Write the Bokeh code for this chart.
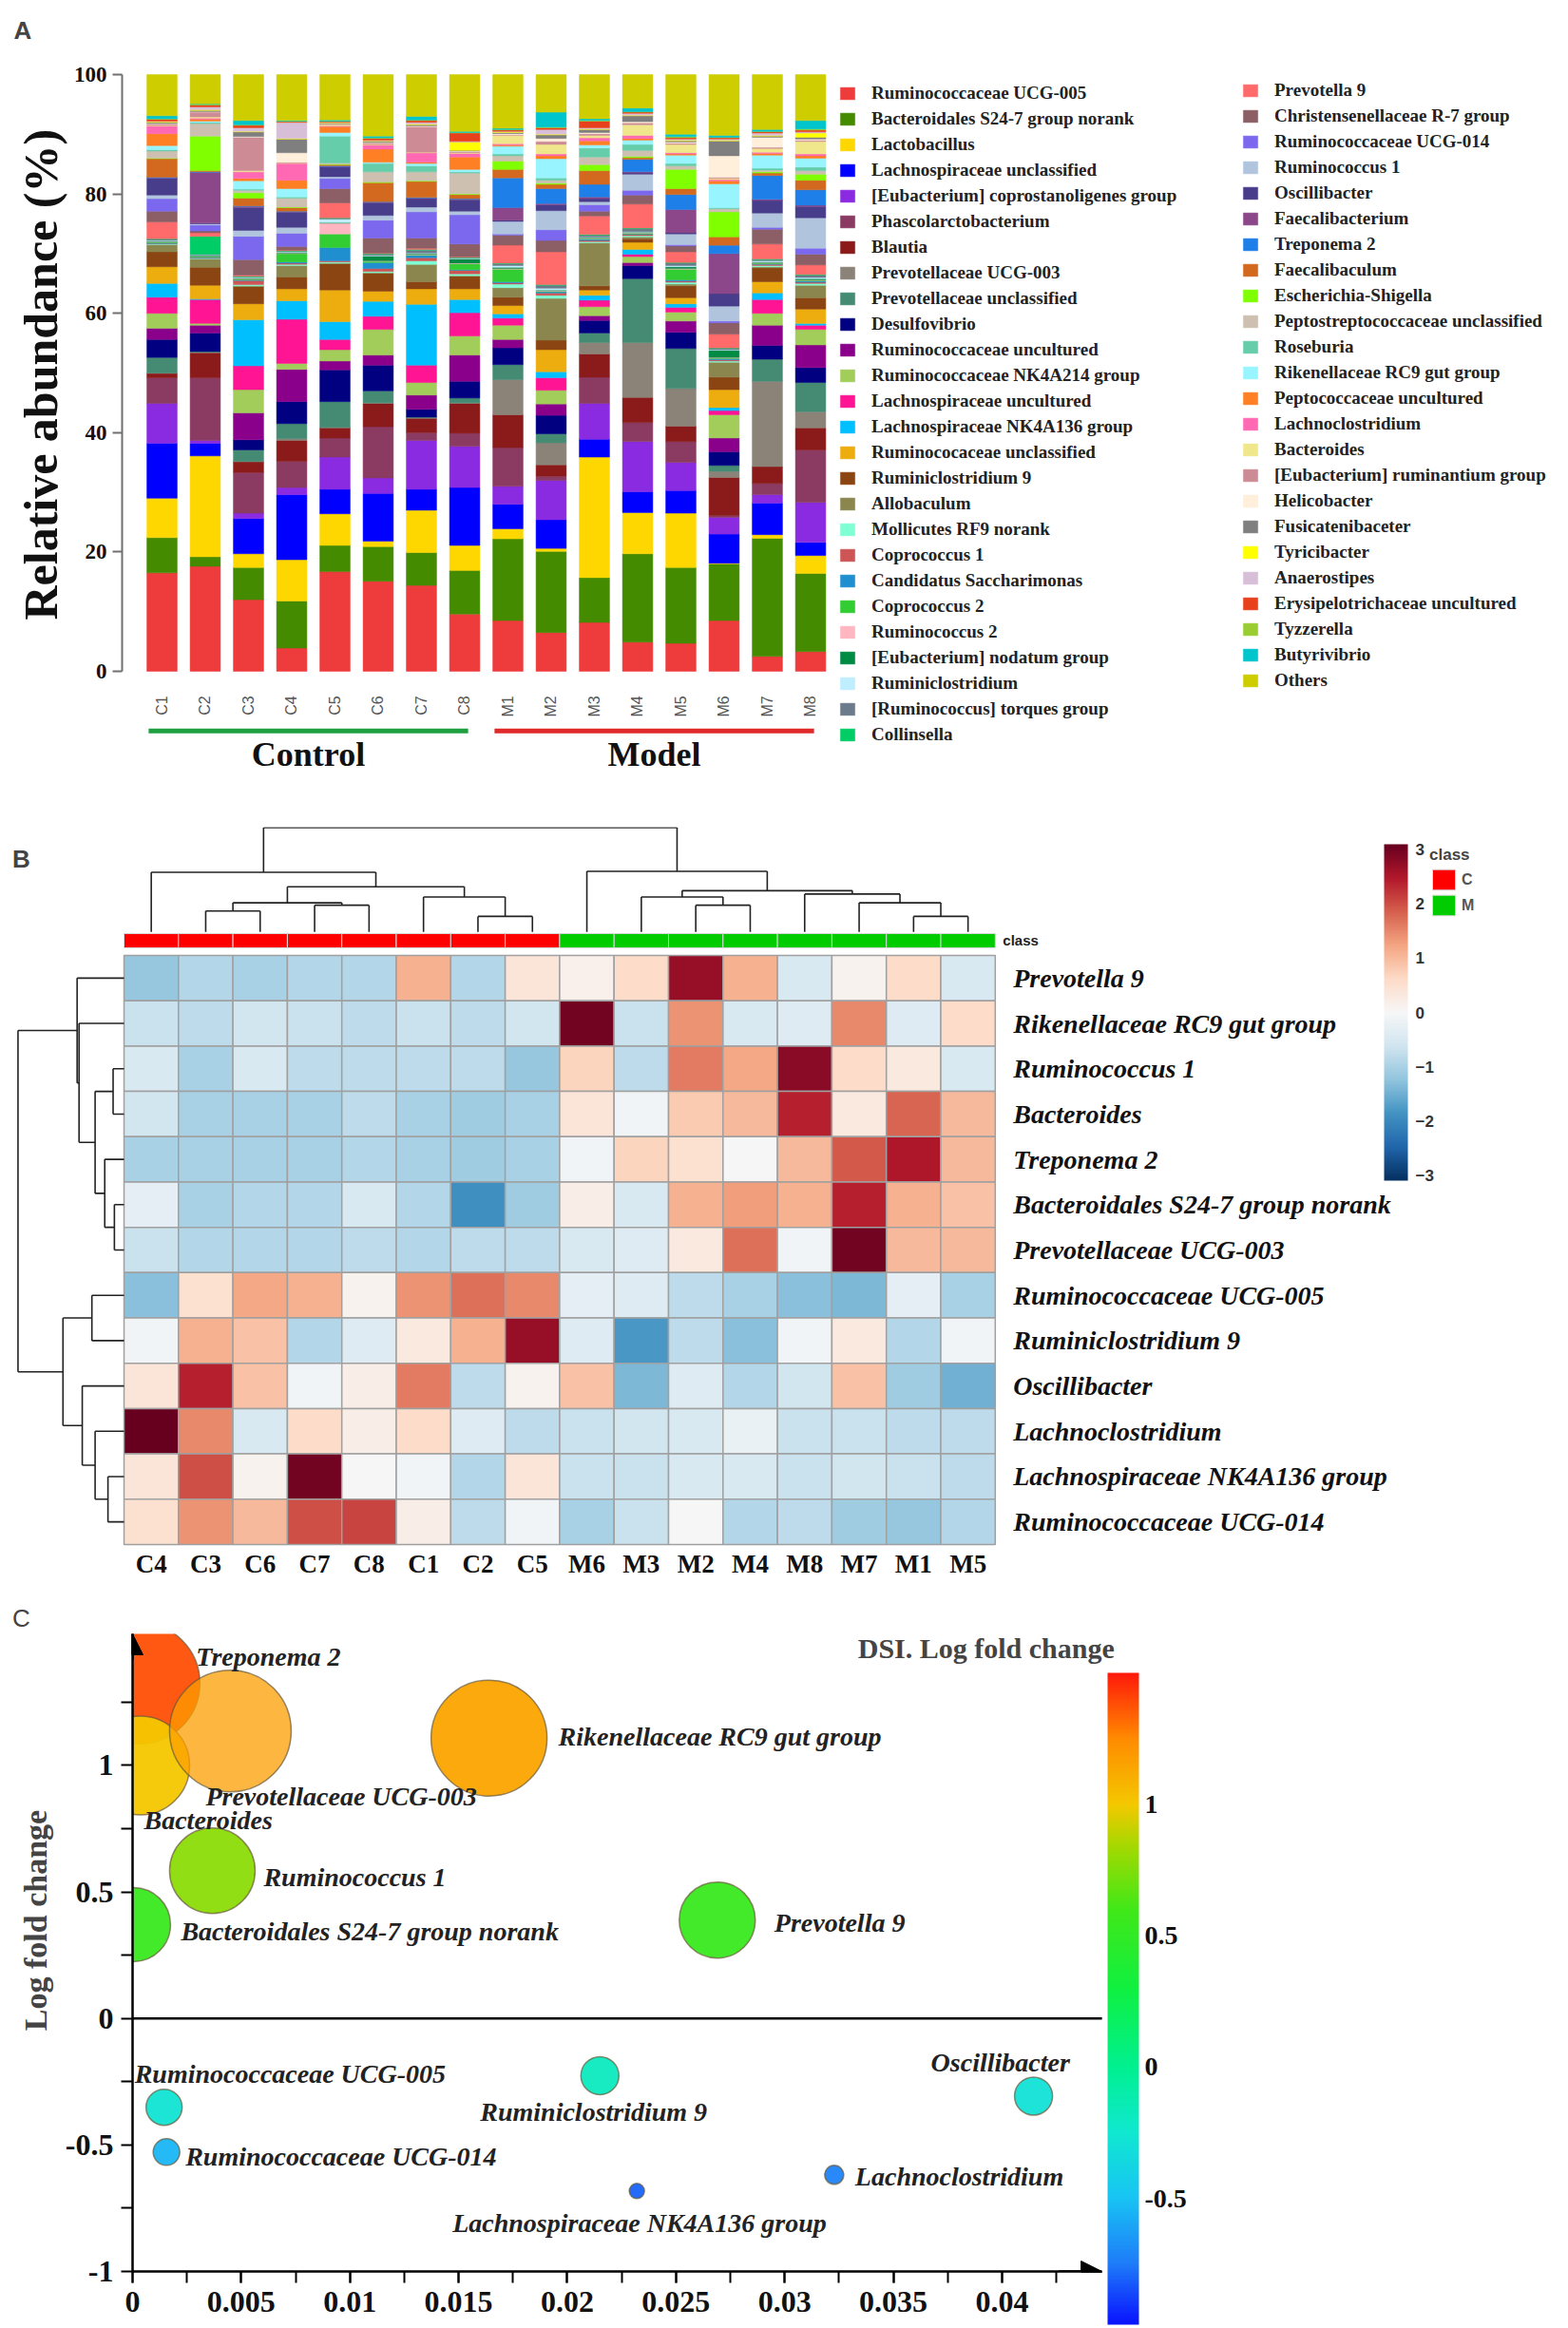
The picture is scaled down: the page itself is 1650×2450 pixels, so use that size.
import math
from bokeh.plotting import figure
from bokeh.models import (ColumnDataSource, Range1d, FixedTicker, Legend, LegendItem,
                          LinearColorMapper, ColorBar, Label, Arrow, NormalHead,
                          NumeralTickFormatter, Title)
from bokeh.transform import transform
from bokeh.embed import file_html
from bokeh.resources import INLINE
from bokeh.core.properties import value

SERIF = "Liberation Serif"
SANS = "Liberation Sans"
NBSP = "\u00a0"

# ======================= PANEL A DATA =======================
samples = ["C1", "C2", "C3", "C4", "C5", "C6", "C7", "C8",
           "M1", "M2", "M3", "M4", "M5", "M6", "M7", "M8"]
groups = ["Control", "Model"]
group_of_sample = ["Control"] * 8 + ["Model"] * 8
group_colors = ["#1fa040", "#e02a2a"]

taxa = ["Ruminococcaceae UCG-005", "Bacteroidales S24-7 group norank", "Lactobacillus",
        "Lachnospiraceae unclassified", "[Eubacterium] coprostanoligenes group",
        "Phascolarctobacterium", "Blautia", "Prevotellaceae UCG-003",
        "Prevotellaceae unclassified", "Desulfovibrio", "Ruminococcaceae uncultured",
        "Ruminococcaceae NK4A214 group", "Lachnospiraceae uncultured",
        "Lachnospiraceae NK4A136 group", "Ruminococaceae unclassified", "Ruminiclostridium 9",
        "Allobaculum", "Mollicutes RF9 norank", "Coprococcus 1", "Candidatus Saccharimonas",
        "Coprococcus 2", "Ruminococcus 2", "[Eubacterium] nodatum group", "Ruminiclostridium",
        "[Ruminococcus] torques group", "Collinsella",
        "Prevotella 9", "Christensenellaceae R-7 group", "Ruminococcaceae UCG-014",
        "Ruminococcus 1", "Oscillibacter", "Faecalibacterium", "Treponema 2", "Faecalibaculum",
        "Escherichia-Shigella", "Peptostreptococcaceae unclassified", "Roseburia",
        "Rikenellaceae RC9 gut group", "Peptococcaceae uncultured", "Lachnoclostridium",
        "Bacteroides", "[Eubacterium] ruminantium group", "Helicobacter", "Fusicatenibaceter",
        "Tyricibacter", "Anaerostipes", "Erysipelotrichaceae uncultured", "Tyzzerella",
        "Butyrivibrio", "Others"]

taxa_colors = ["#EE3B3B", "#458B00", "#FFD700", "#0000FF", "#8A2BE2", "#8B3A62", "#8B1A1A",
               "#8B8378", "#458B74", "#000080", "#8B008B", "#A2CD5A", "#FF1493", "#00BFFF",
               "#EEAD0E", "#8B4513", "#8B864E", "#7FFFD4", "#CD5555", "#1F8FD0", "#32CD32",
               "#FFB6C1", "#008B45", "#BFEFFF", "#6C7B8B", "#00CD66",
               "#FF6A6A", "#8B5F65", "#7B68EE", "#B0C4DE", "#483D8B", "#8B4789", "#1E7FE8",
               "#D2691E", "#7FFF00", "#CDC0B0", "#66CDAA", "#98F5FF", "#FF7F24", "#FF69B4",
               "#F0E68C", "#CD8C95", "#FFEFDB", "#7F7F7F", "#FFFF00", "#D8BFD8", "#E8401C",
               "#9ACD32", "#00C5CD", "#CDCD00"]

# relative abundance (%) per sample, in the order of `taxa`
ab_C1 = [16.5, 5.9, 6.6, 9.2, 6.7, 4.3, 0.7, 0.1, 2.6, 3.0, 1.9, 2.5, 2.7, 2.3, 2.8, 2.5, 1.2,
         0.1, 0.1, 0.1, 0.1, 0.1, 0.1, 0.1, 0.2, 0.1, 2.8, 1.8, 2.1, 0.6, 2.8, 0.1, 0.1, 3.1,
         0.1, 1.2, 0.2, 0.7, 2.0, 1.3, 0.1, 0.2, 0.1, 0.2, 0.1, 0.1, 0.3, 0.1, 0.5, 6.9]
ab_C2 = [17.6, 1.6, 16.9, 2.1, 0.5, 10.5, 4.2, 0.1, 0.1, 3.1, 1.3, 0.3, 4.0, 0.1, 2.3, 3.0, 1.4,
         0.1, 0.1, 0.1, 0.1, 0.1, 0.1, 0.1, 0.1, 3.0, 0.6, 0.3, 1.0, 0.2, 0.1, 8.5, 0.1, 0.2,
         5.8, 2.1, 0.2, 0.2, 0.3, 0.2, 0.2, 0.8, 0.1, 0.2, 0.1, 0.5, 0.3, 0.1, 0.1, 4.9]
ab_C3 = [12.0, 5.4, 2.3, 5.9, 0.9, 6.8, 1.8, 0.1, 1.9, 1.7, 4.5, 3.9, 4.0, 7.7, 2.7, 2.9, 0.1,
         0.2, 0.7, 0.1, 0.1, 0.1, 0.1, 0.1, 0.1, 0.1, 0.2, 2.6, 3.9, 1.0, 3.8, 0.2, 0.1, 1.3,
         0.9, 0.4, 0.2, 1.4, 0.4, 1.1, 0.2, 5.6, 0.1, 0.8, 0.1, 0.6, 0.4, 0.1, 0.7, 7.7]
ab_C4 = [3.9, 7.9, 6.9, 10.9, 1.2, 4.4, 3.5, 0.3, 2.5, 3.7, 5.4, 1.0, 7.4, 3.1, 2.0, 2.0, 1.9,
         0.2, 0.2, 0.2, 1.4, 0.1, 0.1, 0.1, 0.1, 0.1, 0.1, 0.6, 2.2, 1.0, 2.5, 0.1, 0.1, 0.6,
         0.1, 1.5, 0.2, 1.4, 1.4, 2.8, 0.1, 0.1, 1.6, 2.3, 0.1, 2.7, 0.1, 0.1, 0.1, 7.7]
ab_C5 = [16.7, 4.4, 5.3, 4.1, 5.4, 3.2, 1.7, 0.1, 4.3, 5.3, 1.5, 1.9, 1.7, 3.0, 5.3, 4.4, 0.1,
         0.2, 0.2, 2.2, 2.3, 1.8, 0.1, 0.6, 0.1, 0.1, 2.5, 2.4, 1.7, 0.3, 1.6, 0.1, 0.1, 0.2,
         0.1, 0.2, 4.5, 0.6, 1.0, 0.1, 0.1, 0.1, 0.1, 0.1, 0.1, 0.1, 0.1, 0.1, 0.2, 7.6]
ab_C6 = [15.1, 5.8, 0.9, 8.0, 2.6, 8.6, 3.9, 0.1, 2.0, 4.3, 1.7, 4.3, 2.2, 2.5, 1.7, 3.0, 0.1,
         0.2, 0.5, 1.0, 0.2, 0.1, 0.8, 0.1, 0.2, 0.1, 0.1, 2.5, 3.0, 0.8, 2.1, 0.1, 0.1, 3.2,
         0.1, 1.7, 1.4, 0.2, 2.2, 0.7, 0.1, 0.2, 0.1, 0.2, 0.1, 0.1, 0.3, 0.1, 0.3, 10.3]
ab_C7 = [14.4, 5.5, 7.1, 3.5, 8.2, 1.3, 2.4, 0.1, 0.1, 1.3, 2.4, 2.1, 2.9, 10.2, 2.6, 1.2, 2.9,
         0.6, 0.5, 0.4, 0.1, 0.1, 0.1, 0.1, 0.5, 0.1, 0.2, 1.7, 4.4, 0.8, 1.4, 0.1, 0.1, 2.7,
         0.1, 1.5, 1.0, 0.4, 0.2, 1.6, 0.1, 4.3, 0.1, 0.2, 0.1, 0.3, 0.3, 0.1, 0.6, 7.0]
ab_C8 = [9.6, 7.3, 4.2, 9.7, 6.9, 2.2, 5.0, 0.1, 0.8, 2.8, 4.4, 3.2, 3.9, 2.2, 1.8, 2.1, 0.1,
         0.3, 0.6, 0.1, 1.0, 0.1, 0.7, 0.1, 0.1, 0.1, 0.1, 2.1, 4.9, 0.6, 1.9, 0.1, 0.1, 0.7,
         0.1, 3.5, 0.2, 0.4, 2.1, 0.6, 0.1, 0.2, 0.1, 0.1, 1.4, 0.1, 1.4, 0.1, 0.2, 9.5]
ab_M1 = [8.5, 13.7, 1.7, 4.1, 3.0, 6.5, 5.5, 5.9, 2.5, 2.8, 1.4, 2.4, 1.2, 0.7, 1.4, 1.4, 1.6,
         0.6, 0.2, 0.2, 2.1, 0.1, 0.2, 0.3, 0.3, 0.1, 3.0, 1.7, 0.2, 2.1, 0.2, 2.1, 5.0, 1.4,
         1.4, 0.9, 0.3, 1.3, 0.2, 0.2, 1.4, 0.1, 0.2, 0.2, 0.1, 0.1, 0.2, 0.1, 0.2, 9.0]
ab_M2 = [6.5, 13.6, 0.5, 4.8, 6.6, 0.7, 1.9, 3.7, 1.5, 3.1, 1.9, 2.3, 2.1, 1.0, 3.7, 1.6, 7.0,
         0.5, 0.4, 0.2, 0.1, 0.1, 0.1, 0.3, 0.5, 0.1, 5.5, 1.9, 1.8, 3.2, 1.0, 0.2, 2.5, 0.7,
         0.2, 0.5, 0.4, 3.2, 0.5, 0.3, 1.6, 0.5, 0.5, 0.6, 0.1, 0.8, 0.3, 0.1, 2.5, 6.3]
ab_M3 = [8.2, 7.5, 20.2, 3.0, 6.0, 4.4, 3.9, 1.9, 1.6, 2.1, 0.8, 1.5, 1.1, 0.8, 0.9, 0.7, 7.2,
         0.2, 0.2, 0.2, 0.1, 0.1, 0.1, 0.1, 0.3, 0.1, 3.1, 0.8, 1.1, 0.5, 0.5, 0.3, 2.1, 2.3,
         1.0, 1.3, 1.5, 0.5, 0.7, 0.5, 0.4, 0.3, 0.2, 0.5, 0.1, 0.2, 1.1, 0.1, 0.3, 7.4]
ab_M4 = [4.9, 14.8, 6.9, 3.5, 8.4, 3.2, 4.2, 9.2, 10.7, 2.2, 0.5, 1.0, 0.4, 0.8, 1.2, 0.6, 0.3,
         0.2, 0.2, 0.1, 0.1, 0.1, 0.1, 0.1, 0.5, 0.1, 4.0, 1.5, 0.8, 2.7, 0.2, 0.2, 2.1, 0.3,
         0.2, 1.0, 1.0, 0.7, 0.3, 0.5, 1.8, 0.3, 0.2, 1.0, 0.1, 0.3, 0.2, 0.1, 0.6, 5.6]
ab_M5 = [4.7, 12.7, 9.1, 3.8, 4.7, 3.5, 2.6, 6.3, 6.7, 2.7, 1.9, 1.5, 0.8, 0.6, 1.0, 2.0, 0.3,
         0.3, 0.2, 0.2, 1.8, 0.1, 0.3, 0.2, 0.4, 0.1, 1.8, 1.0, 0.2, 1.8, 0.2, 3.9, 2.5, 1.0,
         3.2, 0.6, 0.4, 1.4, 0.2, 0.2, 1.4, 0.2, 0.2, 0.2, 0.1, 0.2, 0.2, 0.2, 0.4, 10.0]
ab_M6 = [8.5, 9.5, 0.1, 4.9, 2.8, 0.3, 6.4, 1.0, 1.0, 2.3, 2.3, 3.9, 0.7, 0.5, 3.0, 2.1, 2.5,
         0.2, 0.2, 0.2, 0.1, 0.1, 1.2, 0.1, 0.2, 0.1, 2.3, 1.9, 0.3, 2.5, 2.1, 6.7, 1.4, 1.4,
         4.2, 0.5, 0.2, 4.0, 0.5, 0.2, 0.2, 0.2, 3.6, 2.5, 0.1, 0.2, 0.2, 0.1, 0.3, 10.2]
ab_M7 = [2.5, 19.8, 0.6, 5.3, 1.4, 1.9, 2.8, 14.3, 3.7, 2.3, 3.4, 2.0, 2.3, 1.1, 1.9, 2.3, 0.2,
         0.2, 0.2, 0.1, 0.1, 0.1, 0.1, 0.2, 0.2, 0.1, 2.5, 2.5, 0.3, 2.4, 2.1, 0.2, 4.0, 0.4,
         0.2, 0.3, 0.3, 2.2, 0.3, 0.2, 0.6, 0.2, 1.7, 0.2, 0.1, 0.4, 0.2, 0.1, 0.3, 9.2]
ab_M8 = [3.3, 13.1, 3.0, 2.2, 6.7, 8.8, 3.7, 2.7, 4.9, 2.5, 3.8, 2.6, 0.7, 0.3, 2.4, 1.9, 2.1,
         0.3, 0.2, 0.2, 0.1, 0.1, 0.2, 0.2, 0.4, 0.1, 1.6, 1.8, 1.0, 5.1, 1.9, 0.2, 2.6, 1.6,
         1.0, 0.6, 0.6, 1.5, 0.4, 0.3, 2.1, 0.2, 0.2, 0.3, 0.7, 0.2, 0.3, 0.2, 1.4, 7.7]
yticks_A = [0, 20, 40, 60, 80, 100]

# ======================= PANEL B DATA =======================
hm_cols = ["C4", "C3", "C6", "C7", "C8", "C1", "C2", "C5",
           "M6", "M3", "M2", "M4", "M8", "M7", "M1", "M5"]
hm_class = ["C"] * 8 + ["M"] * 8
hm_rows = ["Prevotella 9", "Rikenellaceae RC9 gut group", "Ruminococcus 1", "Bacteroides",
           "Treponema 2", "Bacteroidales S24-7 group norank", "Prevotellaceae UCG-003",
           "Ruminococcaceae UCG-005", "Ruminiclostridium 9", "Oscillibacter",
           "Lachnoclostridium", "Lachnospiraceae NK4A136 group", "Ruminococcaceae UCG-014"]
z_prevotella9 = [-1.2, -0.9, -1.0, -0.9, -0.9, 1.1, -0.9, 0.4, 0.15, 0.6, 2.7, 1.1, -0.5, 0.1, 0.6, -0.5]
z_rikenellaceae = [-0.7, -0.8, -0.6, -0.7, -0.8, -0.7, -0.8, -0.6, 3.0, -0.7, 1.4, -0.5, -0.4, 1.5, -0.4, 0.6]
z_ruminococcus1 = [-0.5, -1.0, -0.5, -0.8, -0.8, -0.8, -0.8, -1.2, 0.7, -0.8, 1.6, 1.2, 2.8, 0.6, 0.3, -0.5]
z_bacteroides = [-0.6, -1.0, -1.0, -1.0, -0.8, -1.0, -1.1, -1.0, 0.4, -0.1, 0.8, 1.0, 2.4, 0.3, 1.8, 1.0]
z_treponema2 = [-1.0, -1.0, -1.0, -1.0, -0.9, -1.0, -1.1, -1.0, -0.1, 0.7, 0.5, 0.0, 1.0, 1.9, 2.5, 1.0]
z_s247 = [-0.3, -1.0, -0.9, -0.9, -0.5, -0.9, -1.9, -1.1, 0.2, -0.5, 1.1, 1.3, 1.1, 2.4, 1.1, 0.9]
z_prevucg003 = [-0.7, -0.9, -0.9, -0.9, -0.8, -0.9, -0.8, -0.8, -0.5, -0.4, 0.3, 1.7, -0.1, 3.0, 1.0, 1.0]
z_ucg005 = [-1.3, 0.5, 1.2, 1.1, 0.1, 1.4, 1.7, 1.5, -0.3, -0.4, -0.8, -1.0, -1.3, -1.4, -0.3, -1.0]
z_rclos9 = [-0.1, 1.1, 0.9, -0.9, -0.4, 0.3, 1.1, 2.7, -0.4, -1.8, -0.8, -1.3, -0.1, 0.3, -0.9, -0.1]
z_oscillibacter = [0.4, 2.4, 0.9, -0.1, 0.2, 1.6, -0.8, 0.1, 0.9, -1.4, -0.4, -0.9, -0.6, 0.9, -1.1, -1.5]
z_lachnoclostridium = [3.2, 1.5, -0.5, 0.6, 0.2, 0.6, -0.4, -0.8, -0.7, -0.6, -0.5, -0.2, -0.7, -0.7, -0.8, -0.8]
z_nk4a136 = [0.4, 2.0, 0.1, 3.0, 0.0, -0.1, -0.9, 0.4, -0.7, -0.7, -0.5, -0.5, -0.7, -0.6, -0.7, -0.8]
z_ucg014 = [0.5, 1.4, 1.0, 2.0, 2.1, 0.2, -0.8, -0.1, -1.0, -0.7, 0.0, -0.9, -0.8, -1.1, -1.2, -0.9]
hm_ticks = [-3, -2, -1, 0, 1, 2, 3]
# hierarchical clustering (merge pairs by node id, merge distance)
col_merges = [(6, 7), (1, 2), (3, 4), (17, 18), (5, 16), (19, 20), (0, 21),
              (14, 15), (10, 11), (13, 23), (9, 24), (12, 25), (26, 27), (8, 28), (22, 29)]
col_heights = [32, 43, 55, 60, 72, 93, 123, 32, 55, 60, 72, 78, 85, 125, 215]
row_merges = [(5, 6), (4, 13), (2, 3), (15, 14), (1, 16), (0, 17),
              (7, 8), (11, 12), (10, 20), (9, 21), (19, 22), (18, 23)]
row_heights = [15, 30, 17, 45, 70, 73, 50, 25, 45, 65, 95, 165]

# ======================= PANEL C DATA =======================
bub_names = ["Treponema 2", "Bacteroides", "Prevotellaceae UCG-003", "Rikenellaceae RC9 gut group",
             "Ruminococcus 1", "Bacteroidales S24-7 group norank", "Prevotella 9",
             "Ruminococcaceae UCG-005", "Ruminococcaceae UCG-014", "Ruminiclostridium 9",
             "Oscillibacter", "Lachnospiraceae NK4A136 group", "Lachnoclostridium"]
bub_x = [0.0003, 0.00035, 0.0045, 0.0164, 0.00367, 0.00004, 0.0269,
         0.00145, 0.00156, 0.0215, 0.04145, 0.0232, 0.03228]
bub_lfc = [1.325, 1.0, 1.136, 1.108, 0.584, 0.371, 0.389,
           -0.351, -0.528, -0.226, -0.307, -0.682, -0.618]
bub_dsi = [1.38, 1.0, 1.18, 1.15, 0.78, 0.55, 0.55, -0.28, -0.55, -0.18, -0.3, -0.8, -0.72]
bub_weight = [6.4, 5.2, 6.4, 6.1, 4.5, 3.9, 4.0, 1.9, 1.4, 2.0, 2.0, 0.8, 1.0]
xticks_C = [round(0.005 * i, 4) for i in range(9)]
xminor_C = [round(0.0025 * i, 5) for i in range(18)]
yticks_C = [-1, -0.5, 0, 0.5, 1]
yminor_C = [-0.75, -0.25, 0.25, 0.75, 1.25]
cbar_ticks_C = [-0.5, 0, 0.5, 1]


def lerp_palette(stops, n=256):
    pos = [s[0] for s in stops]
    cols = [tuple(int(s[1][i:i + 2], 16) for i in (1, 3, 5)) for s in stops]
    out = []
    for k in range(n):
        t = pos[0] + (pos[-1] - pos[0]) * k / (n - 1)
        j = 0
        while j < len(pos) - 2 and t > pos[j + 1]:
            j += 1
        f = (t - pos[j]) / (pos[j + 1] - pos[j])
        c = [int(round(cols[j][i] + f * (cols[j + 1][i] - cols[j][i]))) for i in range(3)]
        out.append("#%02x%02x%02x" % tuple(c))
    return out


W = 1650

# ======================= FIGURE A =======================
sample_abund = [ab_C1, ab_C2, ab_C3, ab_C4, ab_C5, ab_C6, ab_C7, ab_C8,
                ab_M1, ab_M2, ab_M3, ab_M4, ab_M5, ab_M6, ab_M7, ab_M8]
xs = [i + 1 for i in range(len(samples))]
dataA = {"x": xs}
keys = ["t%d" % k for k in range(len(taxa))]
for k, key in enumerate(keys):
    dataA[key] = [row[k] for row in sample_abund]
srcA = ColumnDataSource(dataA)

pA = figure(width=W, height=870, x_range=Range1d(0.0769, 33.528), y_range=Range1d(-17.36, 102.866),
            x_axis_type=None, output_backend="svg", toolbar_location=None,
            min_border_left=128, min_border_right=0, min_border_top=60, min_border_bottom=55)
pA.grid.visible = False
pA.outline_line_color = None
bars = pA.vbar_stack(keys, x="x", width=0.7, fill_color=taxa_colors, line_color=taxa_colors,
                     line_width=0.5, source=srcA)

ya = pA.yaxis[0]
ya.ticker = FixedTicker(ticks=yticks_A)
ya.bounds = (0, 100)
ya.axis_line_color = "#707070"
ya.axis_line_width = 2
ya.major_tick_line_color = "#707070"
ya.major_tick_line_width = 2
ya.major_tick_out = 10
ya.major_tick_in = 0
ya.minor_tick_line_color = None
ya.major_label_text_font = SERIF
ya.major_label_text_font_style = "bold"
ya.major_label_text_font_size = "23px"
ya.major_label_text_color = "#111111"
ya.major_label_standoff = 6
ya.axis_label = NBSP * 7 + "Relative abundance (%)"
ya.axis_label_text_font = SERIF
ya.axis_label_text_font_style = "bold"
ya.axis_label_text_font_size = "50px"
ya.axis_label_text_color = "#111111"
ya.axis_label_standoff = 4

srcLab = ColumnDataSource(dict(x=xs, y=[-4.1] * len(xs), t=samples))
pA.text(x="x", y="y", text="t", source=srcLab, angle=math.pi / 2, text_align="right",
        text_baseline="middle", text_font=value(SANS), text_font_size="16px",
        text_color="#555555")

gx0, gx1, gmid = [], [], []
for g in groups:
    members = [xs[i] for i in range(len(samples)) if group_of_sample[i] == g]
    gx0.append(min(members) - 0.31)
    gx1.append(max(members) + 0.08)
    gmid.append((min(members) - 0.31 + max(members) + 0.08) / 2)
srcG = ColumnDataSource(dict(x0=gx0, x1=gx1, xm=gmid, y=[-10.0] * 2, yl=[-14.0] * 2,
                             c=group_colors, t=groups))
pA.segment(x0="x0", y0="y", x1="x1", y1="y", line_color="c", line_width=5, source=srcG)
pA.text(x="xm", y="yl", text="t", source=srcG, text_align="center", text_baseline="middle",
        text_font=value(SERIF), text_font_style="bold", text_font_size="36px",
        text_color="#111111")

leg_kw = dict(orientation="vertical", glyph_width=19, glyph_height=16, label_standoff=16,
              label_height=22, spacing=5, padding=2, margin=0, border_line_color=None,
              background_fill_alpha=0, label_text_font=SERIF, label_text_font_style="bold",
              label_text_font_size="19px", label_text_color="#222222")
n1 = 26
leg1 = Legend(items=[LegendItem(label=taxa[i], renderers=[bars[i]]) for i in range(n1)],
              location=(754, 31), **leg_kw)
leg2 = Legend(items=[LegendItem(label=taxa[i], renderers=[bars[i]])
                     for i in range(n1, len(taxa))], location=(1178, 88), **leg_kw)
pA.add_layout(leg1)
pA.add_layout(leg2)
pA.add_layout(Title(text="A", align="left", offset=-114, standoff=28, text_font=SANS,
                    text_font_style="bold", text_font_size="26px"), "above")

# ======================= FIGURE B =======================
nr, nc = len(hm_rows), len(hm_cols)
z_rows = [z_prevotella9, z_rikenellaceae, z_ruminococcus1, z_bacteroides, z_treponema2,
          z_s247, z_prevucg003, z_ucg005, z_rclos9, z_oscillibacter, z_lachnoclostridium,
          z_nk4a136, z_ucg014]
rdbu = ["#053061", "#2166ac", "#4393c3", "#92c5de", "#d1e5f0", "#f7f7f7",
        "#fddbc7", "#f4a582", "#d6604d", "#b2182b", "#67001f"]
mapperB = LinearColorMapper(palette=lerp_palette(
    [(-3.1 + 6.2 * i / 10, c) for i, c in enumerate(rdbu)]), low=-3.1, high=3.1)

HB = 849
pB = figure(width=W, height=HB, x_range=Range1d(-2.269, 26.527),
            y_range=Range1d(-1.971, 15.831), x_axis_type=None, y_axis_type=None,
            output_backend="svg", toolbar_location=None, min_border_left=0,
            min_border_right=0, min_border_top=0, min_border_bottom=0)
pB.grid.visible = False
pB.outline_line_color = None

hx, hy, hz = [], [], []
for i in range(nr):
    for j in range(nc):
        hx.append(j + 0.5)
        hy.append(nr - 0.5 - i)
        hz.append(z_rows[i][j])
pB.rect(x="x", y="y", width=1, height=1, source=ColumnDataSource(dict(x=hx, y=hy, z=hz)),
        fill_color=transform("z", mapperB), line_color="#a0a0a0", line_width=1.5)


def dendro_segments(n_leaves, merges, heights):
    pos = {i: i + 0.5 for i in range(n_leaves)}
    hgt = {i: 0.0 for i in range(n_leaves)}
    segs = []
    for k, ((a, b), h) in enumerate(zip(merges, heights)):
        segs.append((pos[a], hgt[a], pos[a], h))
        segs.append((pos[b], hgt[b], pos[b], h))
        segs.append((pos[a], h, pos[b], h))
        pos[n_leaves + k] = (pos[a] + pos[b]) / 2
        hgt[n_leaves + k] = h
    return segs


col_base, col_scale = nr + 0.52, 0.0107
cs = dendro_segments(nc, col_merges, col_heights)
pB.segment(x0=[s[0] for s in cs], y0=[col_base + s[1] * col_scale for s in cs],
           x1=[s[2] for s in cs], y1=[col_base + s[3] * col_scale for s in cs],
           line_color="#222222", line_width=1.6)
row_scale = 0.0118
rs = dendro_segments(nr, row_merges, row_heights)
pB.segment(x0=[-s[1] * row_scale for s in rs], y0=[nr - s[0] for s in rs],
           x1=[-s[3] * row_scale for s in rs], y1=[nr - s[2] for s in rs],
           line_color="#222222", line_width=1.6)

class_colors = {"C": "#ff0000", "M": "#00cc00"}
class_renderers = {}
for cl in ["C", "M"]:
    cx = [j + 0.5 for j in range(nc) if hm_class[j] == cl]
    class_renderers[cl] = pB.rect(x=cx, y=[nr + 0.325] * len(cx), width=1, height=0.314,
                                  fill_color=class_colors[cl], line_color="#d8d8d8",
                                  line_width=1)
pB.text(x=[nc + 0.14], y=[nr + 0.33], text=["class"], text_font=value(SANS),
        text_font_style="bold", text_font_size="15px", text_color="#222222",
        text_align="left", text_baseline="middle")
pB.text(x=[nc + 0.33] * nr, y=[nr - 0.5 - i for i in range(nr)], text=hm_rows,
        text_font=value(SERIF), text_font_style="bold italic", text_font_size="28px",
        text_color="#111111", text_align="left", text_baseline="middle")
pB.text(x=[j + 0.5 for j in range(nc)], y=[-0.42] * nc, text=hm_cols,
        text_font=value(SERIF), text_font_style="bold", text_font_size="27px",
        text_color="#111111", text_align="center", text_baseline="middle")

cbB = ColorBar(color_mapper=mapperB, location=(1456, 477), width=25, height=354,
               padding=0, margin=0, ticker=FixedTicker(ticks=hm_ticks),
               major_tick_line_color=None, bar_line_color=None,
               major_label_text_font=SANS, major_label_text_font_size="17px",
               major_label_text_font_style="bold", major_label_text_color="#333333",
               label_standoff=8, background_fill_alpha=0, border_line_color=None)
pB.add_layout(cbB)
legB = Legend(items=[LegendItem(label=cl, renderers=[class_renderers[cl]]) for cl in ["C", "M"]],
              location=(1504, 753), title="class", title_text_font=SANS,
              title_text_font_size="17px", title_text_font_style="bold", title_standoff=2,
              glyph_width=30, glyph_height=27, label_height=27, spacing=0, padding=2, margin=0,
              label_standoff=4, label_text_font=SANS, label_text_font_size="16px",
              label_text_font_style="bold", label_text_color="#555555",
              border_line_color=None, background_fill_alpha=0)
pB.add_layout(legB)
pB.add_layout(Label(x=22, y=HB - 33, x_units="screen", y_units="screen", text="B",
                    text_font=SANS, text_font_style="bold", text_font_size="26px",
                    text_align="center", text_baseline="middle"))
pB.add_layout(Label(x=22, y=17, x_units="screen", y_units="screen", text="C",
                    text_font=SANS, text_font_size="26px",
                    text_align="center", text_baseline="middle"))

# ======================= FIGURE C =======================
jet = [(-0.98, "#0a14ff"), (-0.75, "#1e7cf8"), (-0.5, "#18c4f4"), (-0.25, "#10e8d0"),
       (0.0, "#00f090"), (0.3, "#10f040"), (0.6, "#40e818"), (0.85, "#a8d800"),
       (1.0, "#f4c800"), (1.25, "#ff8c00"), (1.5, "#ff1a0a")]
mapperC = LinearColorMapper(palette=lerp_palette(jet), low=-0.98, high=1.5)

x_axis_end = 0.0446
pC = figure(width=W, height=731, x_range=Range1d(0, 0.06606), y_range=Range1d(-1, 1.52),
            output_backend="svg", toolbar_location=None, min_border_left=139,
            min_border_right=0, min_border_top=0, min_border_bottom=60)
pC.grid.visible = False
pC.outline_line_color = None

xa = pC.xaxis[0]
xa.ticker = FixedTicker(ticks=xticks_C, minor_ticks=xminor_C)
xa.bounds = (0, x_axis_end)
xa.formatter = NumeralTickFormatter(format="0.[000]")
yaC = pC.yaxis[0]
yaC.ticker = FixedTicker(ticks=yticks_C, minor_ticks=yminor_C)
yaC.formatter = NumeralTickFormatter(format="0.[0]")
for ax in (xa, yaC):
    ax.axis_line_color = "black"
    ax.axis_line_width = 2.5
    ax.major_tick_line_color = "black"
    ax.minor_tick_line_color = "black"
    ax.major_tick_line_width = 2
    ax.minor_tick_line_width = 2
    ax.major_tick_out = 12
    ax.minor_tick_out = 12
    ax.major_tick_in = 0
    ax.minor_tick_in = 0
    ax.major_label_text_font = SERIF
    ax.major_label_text_font_style = "bold"
    ax.major_label_text_font_size = "32px"
    ax.major_label_text_color = "#111111"
xa.major_label_standoff = 9
yaC.major_label_standoff = 8
yaC.axis_label = NBSP * 9 + "Log  fold change"
yaC.axis_label_text_font = SERIF
yaC.axis_label_text_font_style = "bold"
yaC.axis_label_text_font_size = "34px"
yaC.axis_label_standoff = 10

pC.segment(x0=[0], y0=[0], x1=[x_axis_end], y1=[0], line_color="black", line_width=2.5)
pC.add_layout(Arrow(end=NormalHead(size=22, fill_color="black", line_color="black"),
                    x_start=0, y_start=1.42, x_end=0, y_end=1.52, line_width=2.5))
pC.add_layout(Arrow(end=NormalHead(size=22, fill_color="black", line_color="black"),
                    x_start=x_axis_end - 0.002, y_start=-1, x_end=x_axis_end, y_end=-1,
                    line_width=2.5))

label_dx = [60, 4, -26, 73, 54, 50, 60, -31, 20, -126, -108, -194, 22]
label_dy = [-28, 58, 69, -2, 7, 7, 3, -35, 5, 38, -35, 34, 2]
bub_alpha = [0.95, 0.95, 0.75, 0.95, 0.95, 0.95, 0.95, 0.95, 0.95, 0.95, 0.95, 0.95, 0.95]
srcC = ColumnDataSource(dict(x=bub_x, y=bub_lfc, c=bub_dsi, a=bub_alpha,
                             size=[w * 20 for w in bub_weight], name=bub_names,
                             dx=label_dx, dy=label_dy))
pC.scatter(x="x", y="y", size="size", marker="circle", source=srcC,
           fill_color=transform("c", mapperC), fill_alpha="a",
           line_color="#6a5a3a", line_alpha=0.7, line_width=1.5)
pC.text(x="x", y="y", text="name", x_offset="dx", y_offset="dy", source=srcC,
        text_align="left", text_baseline="middle", text_font=value(SERIF),
        text_font_style="bold italic", text_font_size="28px", text_color="#222222")

cbC = ColorBar(color_mapper=mapperC, location=(1026, -56), width=33, height=686,
               padding=0, margin=0, ticker=FixedTicker(ticks=cbar_ticks_C),
               formatter=NumeralTickFormatter(format="0.[0]"),
               major_tick_line_color=None, bar_line_color=None,
               major_label_text_font=SERIF, major_label_text_font_size="28px",
               major_label_text_font_style="bold", major_label_text_color="#111111",
               label_standoff=6, background_fill_alpha=0, border_line_color=None)
pC.add_layout(cbC)
pC.add_layout(Label(x=902, y=656, x_units="screen", y_units="screen",
                    text="DSI. Log  fold change", text_font=SERIF, text_font_style="bold",
                    text_font_size="30px", text_align="center", text_baseline="middle"))

open("out.html", "w").write(file_html([pA, pB, pC], INLINE))
